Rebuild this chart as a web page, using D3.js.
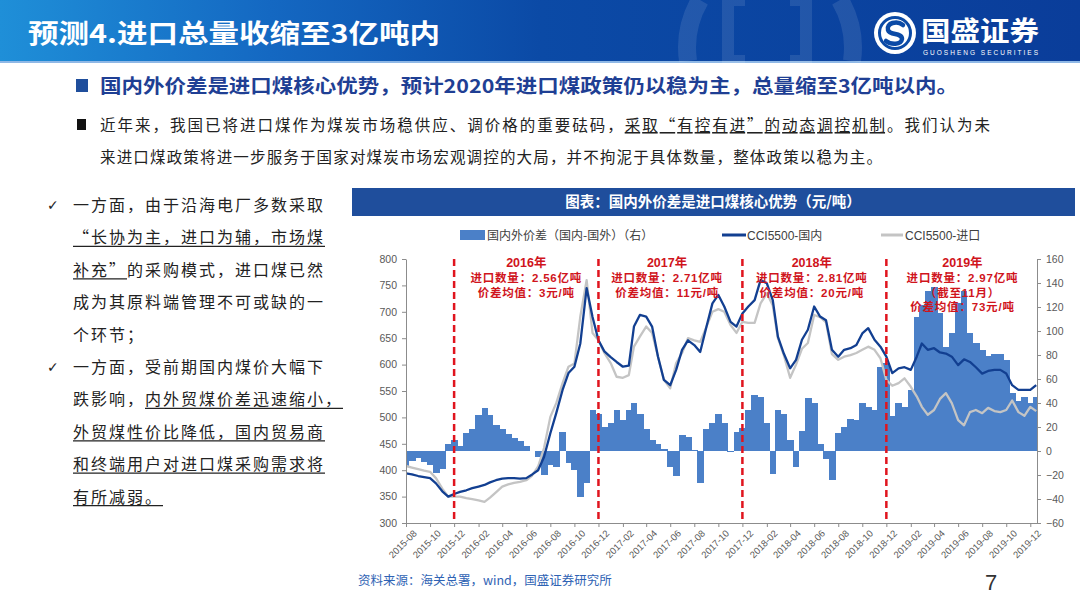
<!DOCTYPE html>
<html><head><meta charset="utf-8">
<script src="https://cdn.jsdelivr.net/npm/d3@7"></script>
<style>
body{margin:0;background:#fff;}
svg{display:block;font-family:"Noto Sans CJK SC","Liberation Sans",sans-serif;}
</style>
</head><body>
<svg id="s" width="1080" height="608"></svg>
<script>
// ---------------- DATA ----------------
// semi-monthly observations starting 2015-08-01 (1st and 16th of each month)
const domestic = [
 394,392,389,387,385,375,360,350,355,359,
 362,366,369,372,377,381,384,385,385,384,
 385,392,400,425,470,508,552,584,596,640,
 745,690,646,625,614,605,596,598,672,694,
 691,672,615,571,561,590,628,646,637,624,
 672,716,732,710,681,672,697,710,722,760,
 754,722,653,621,593,609,647,666,710,691,
 684,628,615,628,631,637,659,669,647,634,
 615,584,593,595,590,615,640,628,631,623,
 621,615,599,610,605,595,583,588,590,590,
 583,561,552,552,552,561];
const imported = [
 408,405,402,399,397,385,365,350,350,350,
 347,345,343,340,348,358,369,373,376,378,
 381,390,407,442,501,527,565,596,602,691,
 760,660,646,622,603,577,575,580,634,653,
 672,660,615,571,555,603,622,650,646,643,
 672,700,705,700,675,660,681,679,679,716,
 735,712,650,618,575,600,630,641,694,690,
 680,620,609,615,618,622,628,634,628,612,
 571,560,565,574,558,540,520,505,514,535,
 546,527,495,485,510,514,508,518,512,510,
 514,532,510,503,520,512];
const spread = [
 -13,-8,-6,-9,-12,-18,-15,6,9,4,
 15,18,30,36,30,22,18,14,11,8,
 4,0,-5,-20,-12,-13,16,-10,-16,-38,
 -27,34,31,20,23,34,26,34,40,31,
 18,9,6,2,-13,-21,13,12,1,-27,
 18,23,31,23,-1,16,19,34,47,45,
 23,-19,34,31,9,-13,17,44,40,6,
 -7,-24,15,20,27,26,40,37,34,70,
 73,29,40,37,51,112,122,133,137,115,
 87,98,123,133,98,90,84,79,81,81,
 76,48,42,45,40,45];
const xTickLabels = ["2015-08","2015-10","2015-12","2016-02","2016-04","2016-06","2016-08","2016-10","2016-12",
 "2017-02","2017-04","2017-06","2017-08","2017-10","2017-12","2018-02","2018-04","2018-06","2018-08","2018-10","2018-12",
 "2019-02","2019-04","2019-06","2019-08","2019-10","2019-12"];
const leftTicks = [300,350,400,450,500,550,600,650,700,750,800];
const rightTicks = [-60,-40,-20,0,20,40,60,80,100,120,140,160];
const dividers = ["2015-12","2016-12","2017-12","2018-12"];
const yearNotes = [
 {at:"2016-06-01", lines:["2016年","进口数量：2.56亿吨","价差均值：3元/吨"]},
 {at:"2017-05-24", lines:["2017年","进口数量：2.71亿吨","价差均值：11元/吨"]},
 {at:"2018-05-26", lines:["2018年","进口数量：2.81亿吨","价差均值：20元/吨"]},
 {at:"2019-06-12", lines:["2019年","进口数量：2.97亿吨","（截至11月）","价差均值：73元/吨"]}
];
const legendLabels = ["国内外价差（国内-国外）（右）","CCI5500-国内","CCI5500-进口"];
const colors = {bar:"#4b80c8", dom:"#123f91", imp:"#c4c4c4", red:"#e0141e"};

// ---------------- SLIDE ----------------
const svg = d3.select("#s");
const defs = svg.append("defs");
const g1 = defs.append("linearGradient").attr("id","hdr").attr("x1","0").attr("x2","1").attr("y1","0").attr("y2","0");
[["0%","#1f8fd8"],["25%","#1468c2"],["50%","#0b4aa6"],["100%","#0a3d9a"]].forEach(s=>g1.append("stop").attr("offset",s[0]).attr("stop-color",s[1]));
svg.append("rect").attr("x",0).attr("y",0).attr("width",1080).attr("height",61).attr("fill","url(#hdr)");
svg.append("rect").attr("x",0).attr("y",61).attr("width",1080).attr("height",2).attr("fill","#8fb8e6");
// watermark
const wm = svg.append("g").attr("fill","none").attr("stroke","#ffffff").attr("stroke-opacity",0.1);
wm.append("path").attr("d","M700,0 A95,95 0 0 0 688,61").attr("stroke-width",18);
wm.append("path").attr("d","M840,0 A95,95 0 0 1 852,61").attr("stroke-width",18);
wm.append("path").attr("d","M745,0 L728,0 L728,61 L745,61").attr("stroke-width",12);
wm.append("path").attr("d","M790,0 L806,0 L806,61 L790,61").attr("stroke-width",12);
// title
svg.append("text").attr("x",28).attr("y",43).attr("fill","#fff").attr("font-size",26).attr("font-weight","bold")
  .attr("textLength",412).attr("lengthAdjust","spacingAndGlyphs").text("预测4.进口总量收缩至3亿吨内");
// logo
const lg = svg.append("g");
lg.append("circle").attr("cx",895).attr("cy",33).attr("r",21).attr("fill","#fff");
lg.append("circle").attr("cx",895).attr("cy",33).attr("r",15.5).attr("fill","none").attr("stroke","#0b4aa6").attr("stroke-width",3);
lg.append("path").attr("d","M903,25 C897,20 886,23 888,30 C890,36 902,32 902,39 C901,45 891,45 886,41")
  .attr("fill","none").attr("stroke","#0b4aa6").attr("stroke-width",4.5).attr("stroke-linecap","round");
lg.append("text").attr("x",921).attr("y",41).attr("fill","#fff").attr("font-size",27).attr("font-weight","bold")
  .attr("textLength",118).attr("lengthAdjust","spacingAndGlyphs").text("国盛证券");
lg.append("text").attr("x",923).attr("y",54.5).attr("fill","#fff").attr("font-size",6.5).attr("font-family","Liberation Sans")
  .attr("textLength",115).attr("lengthAdjust","spacing").text("GUOSHENG SECURITIES");

// headline
svg.append("rect").attr("x",76).attr("y",79).attr("width",12).attr("height",13).attr("fill","#1f4e9c");
svg.append("text").attr("x",100).attr("y",93).attr("fill","#1f3f94").attr("font-size",19).attr("font-weight","bold")
  .attr("textLength",858).attr("lengthAdjust","spacingAndGlyphs").text("国内外价差是进口煤核心优势，预计2020年进口煤政策仍以稳为主，总量缩至3亿吨以内。");
// paragraph
svg.append("rect").attr("x",77).attr("y",119).attr("width",9).attr("height",11).attr("fill","#111");
const p1 = svg.append("text").attr("x",100).attr("y",131).attr("fill","#222").attr("font-size",15.5)
  .attr("textLength",890).attr("lengthAdjust","spacing");
p1.append("tspan").text("近年来，我国已将进口煤作为煤炭市场稳供应、调价格的重要砝码，");
p1.append("tspan").attr("text-decoration","underline").text("采取“有控有进”的动态调控机制");
p1.append("tspan").text("。我们认为未");
svg.append("text").attr("x",100).attr("y",163).attr("fill","#222").attr("font-size",15.5)
  .attr("textLength",782).attr("lengthAdjust","spacing").text("来进口煤政策将进一步服务于国家对煤炭市场宏观调控的大局，并不拘泥于具体数量，整体政策以稳为主。");

// left bullets: each line = [plain, underlined, plain]
const leftLines = [
 ["一方面，由于沿海电厂多数采取","",""],
 ["","“长协为主，进口为辅，市场煤",""],
 ["","补充”","的采购模式，进口煤已然"],
 ["成为其原料端管理不可或缺的一","",""],
 ["个环节；","",""],
 ["一方面，受前期国内煤价大幅下","",""],
 ["跌影响，","内外贸煤价差迅速缩小，",""],
 ["","外贸煤性价比降低，国内贸易商",""],
 ["","和终端用户对进口煤采购需求将",""],
 ["","有所减弱。",""]
];
const pitch = 18;
leftLines.forEach((ln,i)=>{
  const y = 211 + i*32.4;
  let cx = 73;
  ln.forEach((seg,k)=>{
    if(!seg) return;
    svg.append("text").attr("x",cx).attr("y",y).attr("fill","#222").attr("font-size",16)
      .attr("letter-spacing",2).text(seg);
    if(k===1){
      svg.append("line").attr("x1",cx).attr("x2",cx+seg.length*pitch).attr("y1",y+3).attr("y2",y+3)
        .attr("stroke","#222").attr("stroke-width",1.3);
    }
    cx += seg.length*pitch;
  });
});
[211, 211+5*32.4].forEach(y=>svg.append("text").attr("x",47).attr("y",y-1).attr("font-size",14)
  .attr("font-family","DejaVu Sans").attr("fill","#222").text("✓"));

// ---------------- CHART ----------------
svg.append("rect").attr("x",352).attr("y",188).attr("width",723).attr("height",28).attr("fill","#1f4e9c");
svg.append("text").attr("x",713).attr("y",207).attr("text-anchor","middle").attr("fill","#fff").attr("font-size",14.5)
  .attr("font-weight","bold").text("图表：国内外价差是进口煤核心优势（元/吨）");

// legend
const leg = svg.append("g").attr("font-size",12).attr("fill","#404040");
leg.append("rect").attr("x",460).attr("y",230).attr("width",25).attr("height",10).attr("fill",colors.bar);
leg.append("text").attr("x",487).attr("y",240).text(legendLabels[0]);
leg.append("line").attr("x1",722).attr("x2",746).attr("y1",235).attr("y2",235).attr("stroke",colors.dom).attr("stroke-width",3);
leg.append("text").attr("x",747).attr("y",240).attr("font-family","Liberation Sans, Noto Sans CJK SC").text(legendLabels[1]);
leg.append("line").attr("x1",881).attr("x2",903).attr("y1",235).attr("y2",235).attr("stroke",colors.imp).attr("stroke-width",3);
leg.append("text").attr("x",905).attr("y",240).attr("font-family","Liberation Sans, Noto Sans CJK SC").text(legendLabels[2]);

const parseM = s => { const [yy,mm] = s.split("-").map(Number); return new Date(yy, mm-1, 1); };
const dates = domestic.map((_,i)=> new Date(2015, 7 + Math.floor(i/2), i%2 ? 16 : 1));
const x = d3.scaleTime().domain([new Date(2015,7,1), new Date(2019,11,18)]).range([406,1037]);
const yL = d3.scaleLinear().domain([300,800]).range([523,259]);
const yR = d3.scaleLinear().domain([-60,160]).range([523,259]);

defs.append("clipPath").attr("id","plot").append("rect")
  .attr("x",x.range()[0]).attr("y",yL.range()[1]).attr("width",x.range()[1]-x.range()[0]).attr("height",yL.range()[0]-yL.range()[1]);

const xs = dates.map(d=>x(d));
const edges = xs.map((v,i)=>{
  const l = i>0 ? (xs[i-1]+v)/2 : v-(xs[1]-xs[0])/2;
  const r = i<xs.length-1 ? (xs[i+1]+v)/2 : v+(xs[1]-xs[0])/2;
  return [l,r];
});
const plot = svg.append("g").attr("clip-path","url(#plot)");
plot.append("g").selectAll("rect").data(spread).join("rect")
  .attr("x",(d,i)=>edges[i][0]).attr("width",(d,i)=>edges[i][1]-edges[i][0]+0.5)
  .attr("y",d=>Math.min(yR(d),yR(0))).attr("height",d=>Math.abs(yR(d)-yR(0)))
  .attr("fill",colors.bar).attr("shape-rendering","crispEdges");
const line = arr => d3.line().x((d,i)=>xs[i]).y(d=>yL(d))(arr);
plot.append("path").attr("d",line(imported)).attr("fill","none").attr("stroke",colors.imp).attr("stroke-width",2.3).attr("stroke-linejoin","round");
plot.append("path").attr("d",line(domestic)).attr("fill","none").attr("stroke",colors.dom).attr("stroke-width",2.3).attr("stroke-linejoin","round");

// axes
const styleAxis = g => {
  g.select(".domain").attr("stroke","#8c8c8c");
  g.selectAll(".tick line").attr("stroke","#8c8c8c");
  g.selectAll("text").attr("fill","#595959").attr("font-family","Liberation Sans").attr("font-size",10.5);
};
svg.append("g").attr("transform",`translate(${x.range()[0]},0)`)
  .call(d3.axisLeft(yL).tickValues(leftTicks).tickSize(4).tickPadding(5).tickSizeOuter(0)).call(styleAxis);
svg.append("g").attr("transform",`translate(${x.range()[1]},0)`)
  .call(d3.axisRight(yR).tickValues(rightTicks).tickSize(4).tickPadding(5).tickSizeOuter(0)).call(styleAxis);
const xa = svg.append("g").attr("transform",`translate(0,${yL.range()[0]})`)
  .call(d3.axisBottom(x).tickValues(xTickLabels.map(parseM)).tickFormat((d,i)=>xTickLabels[i]).tickSize(4).tickSizeOuter(0))
  .call(styleAxis);
xa.selectAll(".tick text").attr("font-size",9.5).attr("text-anchor","end")
  .attr("transform","translate(2,2) rotate(-45)").attr("dy","0.6em").attr("dx","0");

// dividers
svg.append("g").selectAll("line").data(dividers).join("line")
  .attr("x1",d=>x(parseM(d))).attr("x2",d=>x(parseM(d)))
  .attr("y1",yL(800)).attr("y2",yL(300))
  .attr("stroke",colors.red).attr("stroke-width",2.5).attr("stroke-dasharray","7,4");

// annotations
yearNotes.forEach(n=>{
  const [yy,mm,dd] = n.at.split("-").map(Number);
  const cx = x(new Date(yy,mm-1,dd));
  n.lines.forEach((t,i)=>{
    svg.append("text").attr("x",cx).attr("y",yL(800)+8+i*14.8).attr("text-anchor","middle")
      .attr("fill","#d0141c").attr("font-size",i===0?12.5:11.5).attr("font-weight","bold")
      .attr("letter-spacing",i===0?0:0.8)
      .attr("font-family","Liberation Sans, Noto Sans CJK SC").text(t);
  });
});

// footer
svg.append("text").attr("x",358).attr("y",585).attr("fill","#2f63b4").attr("font-size",12.5)
  .text("资料来源：海关总署，wind，国盛证券研究所");
svg.append("text").attr("x",985).attr("y",590).attr("fill","#333").attr("font-size",22)
  .attr("font-family","Liberation Sans").text("7");
</script>
</body></html>
